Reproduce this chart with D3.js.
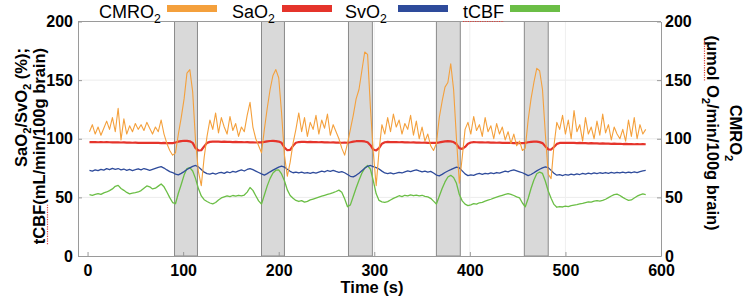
<!DOCTYPE html>
<html><head><meta charset="utf-8">
<script src="https://cdn.jsdelivr.net/npm/d3@7"></script>
<style>
body{margin:0;background:#fff}
svg{display:block;font-family:"Liberation Sans",Arial,sans-serif}
</style>
</head><body>
<svg id="c" width="744" height="299"></svg>
<script>
// ---- data (sampled every 3 s starting at t = 2 s) ----
const timeStart = 2, timeStep = 3;
const cmro2 = [106,112,104,110,103,109,115,108,118,106,126,99,117,104,111,106,113,108,112,107,
114,109,104,110,106,116,104,96,90,86,
88,104,118,134,156,159,140,98,72,60,84,102,116,108,122,105,118,110,104,119,
107,113,102,110,106,120,131,110,100,94,
88,108,126,142,154,159,152,122,86,68,80,96,108,122,106,118,102,114,108,120,
104,116,109,121,103,112,106,100,92,86,
96,108,120,134,142,158,174,172,126,88,60,90,112,104,118,106,121,110,116,104,
113,108,120,103,115,100,110,98,104,94,90,
96,118,132,144,148,164,142,100,62,84,108,114,104,119,107,112,102,118,106,111,
100,113,104,110,99,106,96,104,94,98,90,
92,116,134,148,160,158,142,104,70,66,94,114,108,120,104,116,100,124,106,112,
98,118,104,110,100,115,103,121,105,112,99,110,104,100,108,98,116,102,118,100,112,104,108];
const sao2 = [97.2,97.1,97.2,97.0,97.1,97.0,97.1,97.0,96.9,97.0,96.9,96.8,96.9,96.7,96.8,96.6,96.7,96.5,96.6,96.5,
96.6,96.4,96.5,96.4,96.5,96.3,96.4,96.2,96.3,96.3,
96.8,97.5,98.0,98.3,98.2,97.8,96.5,92.0,90.0,90.2,93.5,96.5,97.3,97.5,97.6,97.5,97.4,97.5,97.3,97.4,
97.2,97.3,97.1,97.2,97.0,97.1,96.9,97.0,96.8,96.9,
96.9,97.3,97.8,98.1,98.2,98.0,97.6,96.5,92.5,90.2,90.5,94.0,96.6,97.2,97.4,97.3,97.2,97.3,97.1,97.2,
97.0,97.1,96.9,97.0,96.8,96.9,96.7,96.8,96.6,96.7,
96.6,97.0,97.5,97.9,98.1,98.0,97.7,97.0,94.5,90.8,90.0,92.0,95.8,97.0,97.3,97.2,97.1,97.2,97.0,97.1,
96.9,97.0,96.8,96.9,96.7,96.8,96.6,96.7,96.5,96.6,96.4,
96.5,96.9,97.4,97.8,97.9,97.7,97.2,95.5,92.0,91.3,93.0,95.8,96.8,97.1,97.0,96.9,97.0,96.8,96.9,96.7,
96.8,96.6,96.7,96.5,96.6,96.4,96.5,96.3,96.4,96.3,96.2,
96.5,97.0,97.4,97.6,97.5,97.1,96.3,93.5,91.0,90.8,93.0,95.6,96.4,96.6,96.5,96.6,96.4,96.5,96.3,96.4,
96.2,96.3,96.1,96.2,96.0,96.1,95.9,96.0,95.8,95.9,95.7,95.8,95.6,95.7,95.5,95.6,95.4,95.5,95.3,95.4,95.3,95.4,95.3];
const svo2 = [73.0,72.4,73.5,72.8,73.9,73.2,74.5,73.6,74.8,73.9,74.6,73.5,74.2,73.1,73.8,72.9,73.6,74.4,73.5,74.6,
73.8,73.0,73.9,74.8,75.6,76.2,75.0,73.4,72.0,71.2,
69.8,69.2,70.5,72.0,73.8,75.2,76.4,77.2,76.0,73.8,71.5,70.2,69.8,70.6,69.9,70.8,71.4,70.5,71.8,71.0,
72.2,71.5,72.6,73.4,72.5,73.8,74.6,73.6,72.4,71.2,
70.0,69.0,70.3,71.8,73.2,74.5,75.8,76.6,75.9,74.0,72.2,71.0,71.6,70.8,71.5,70.6,71.2,70.4,71.3,70.7,
71.6,72.4,71.8,72.9,72.2,73.0,72.1,71.4,72.0,71.0,
69.5,68.0,67.5,68.8,70.6,72.8,74.8,76.5,77.2,76.2,75.4,74.2,72.4,70.8,70.2,70.9,70.0,70.6,71.4,70.8,
71.8,72.6,71.9,72.8,73.5,72.6,71.8,72.4,71.6,72.2,70.8,
69.0,68.4,69.6,71.2,72.5,73.6,74.8,75.8,75.2,72.6,70.0,68.6,69.2,68.8,69.8,70.4,69.6,70.5,70.0,70.9,
70.3,71.2,70.6,71.6,72.4,71.8,72.9,73.4,72.6,71.8,71.0,
69.8,68.6,69.5,71.0,72.6,74.0,75.2,76.0,75.4,73.0,70.6,68.9,69.4,68.6,69.5,68.9,69.8,69.2,70.1,69.5,
70.4,69.8,70.6,70.0,70.8,70.2,71.0,70.4,71.2,70.5,71.3,70.7,71.4,70.8,71.5,70.9,71.6,71.0,71.8,71.2,72.0,72.6,73.0];
const tcbf = [52.4,51.8,52.6,53.2,52.5,53.8,54.6,55.8,57.2,59.4,60.2,57.6,56.0,54.2,53.0,53.6,54.0,54.6,55.8,57.8,
59.8,59.0,57.2,57.8,59.6,61.4,59.0,54.6,49.8,45.6,
44.6,53.5,61.0,69.0,74.6,75.4,72.5,66.0,57.5,51.2,48.0,46.5,45.2,44.4,45.6,47.8,49.5,50.4,51.2,50.6,
51.6,51.0,51.8,51.2,52.0,54.5,58.4,56.0,51.4,47.0,
44.3,52.0,59.8,66.2,70.8,73.2,73.4,70.0,64.2,56.4,51.6,49.2,47.4,46.5,47.2,45.9,46.6,47.8,48.6,49.4,
50.2,51.0,51.8,52.6,53.2,54.0,55.0,56.2,54.4,48.8,
42.0,43.6,50.8,58.0,64.6,70.6,75.0,77.2,74.0,64.0,53.0,47.4,46.2,45.8,46.4,47.8,49.2,50.2,51.4,50.6,
51.8,51.2,52.2,51.4,51.9,51.2,51.8,50.8,50.4,49.2,46.8,
44.4,51.0,57.6,63.2,67.4,68.8,67.0,62.0,52.4,47.0,44.2,43.0,43.6,44.6,44.2,45.4,45.8,46.8,47.6,48.4,
49.4,50.2,51.0,51.8,52.6,53.2,52.6,51.6,50.4,49.6,45.2,
42.0,49.0,57.6,64.8,70.2,71.6,70.4,63.8,55.4,49.2,44.0,41.6,42.2,41.8,42.6,42.2,43.0,43.4,43.8,44.4,
44.9,45.6,46.2,46.0,46.8,47.2,46.8,47.4,48.4,49.8,51.2,52.4,52.8,51.6,50.0,48.6,47.4,47.8,49.4,51.0,52.2,53.0,52.4];
const stimBlocks = [[91,115],[182,206],[273,298],[365,390],[457,482]];
const xTicks = [0,100,200,300,400,500,600];
const yTicks = [0,50,100,150,200];
const seriesColors = ["#F4A03C","#E5342B","#2E4B9B","#6BBE46"];

// ---- layout ----
const svg = d3.select("#c");
const FONT = '"Liberation Sans",Arial,sans-serif';
const L = 78, R = 661, T = 21.5, B = 256;
const x = d3.scaleLinear().domain([-10, 600]).range([L, R]);
const y = d3.scaleLinear().domain([0, 200]).range([B, T]);
const times = d3.range(cmro2.length).map(i => timeStart + i * timeStep);

svg.append("rect").attr("width",744).attr("height",299).attr("fill","#fff");

// grid
const g = svg.append("g");
g.selectAll(".hg").data(yTicks.slice(1,-1)).join("line")
  .attr("x1",L).attr("x2",R).attr("y1",d=>y(d)).attr("y2",d=>y(d))
  .attr("stroke","#ececec").attr("stroke-width",1);
g.selectAll(".vg").data(xTicks.slice(1,-1)).join("line")
  .attr("y1",T).attr("y2",B).attr("x1",d=>x(d)).attr("x2",d=>x(d))
  .attr("stroke","#efefef").attr("stroke-width",1);

// stimulation blocks
svg.append("g").selectAll("rect").data(stimBlocks).join("rect")
  .attr("x",d=>x(d[0])).attr("width",d=>x(d[1])-x(d[0]))
  .attr("y",T).attr("height",B-T)
  .attr("fill","#d9d9d9").attr("stroke","#8a8a8a").attr("stroke-width",1);

// axes
const styleAxis = a => {
  a.select(".domain").attr("stroke","#9a9a9a");
  a.selectAll(".tick line").attr("stroke","#9a9a9a");
  a.selectAll(".tick text").attr("font-size",16).attr("font-weight","bold")
    .attr("fill","#000").attr("font-family",FONT);
};
svg.append("g").attr("transform",`translate(${L},0)`)
  .call(d3.axisLeft(y).tickValues(yTicks).tickSizeInner(-4).tickSizeOuter(0).tickPadding(5)).call(styleAxis);
svg.append("g").attr("transform",`translate(${R},0)`)
  .call(d3.axisRight(y).tickValues(yTicks).tickSizeInner(-4).tickSizeOuter(0).tickPadding(4)).call(styleAxis);
svg.append("g").attr("transform",`translate(0,${B})`)
  .call(d3.axisBottom(x).tickValues(xTicks).tickSizeInner(-4).tickSizeOuter(0).tickPadding(9)).call(styleAxis);
svg.append("line").attr("x1",L).attr("x2",R).attr("y1",T).attr("y2",T).attr("stroke","#9a9a9a");

// series
const line = d3.line().x((d,i)=>x(times[i])).y(d=>y(d));
const draw = (data,color,w) => svg.append("path").datum(data).attr("d",line)
  .attr("fill","none").attr("stroke",color).attr("stroke-width",w).attr("stroke-linejoin","round");
draw(tcbf, seriesColors[3], 1.3);
draw(svo2, seriesColors[2], 1.3);
draw(sao2, seriesColors[1], 2.2);
draw(cmro2, seriesColors[0], 1.1);

// text with subscripts: parts = [[text, isSub], ...]
function richText(sel, parts, size) {
  let prevSub = false;
  parts.forEach(([t, sub]) => {
    const ts = sel.append("tspan").text(t);
    if (sub) ts.attr("font-size", size*0.68);
    if (sub && !prevSub) ts.attr("dy", size*0.3);
    else if (!sub && prevSub) ts.attr("dy", -size*0.3);
    prevSub = sub;
  });
}
// red dotted "spell-check" underline under characters [a,b] of a text element
function squiggle(parent, textNode, a, b, off) {
  const p0 = textNode.getStartPositionOfChar(a), p1 = textNode.getEndPositionOfChar(b);
  parent.append("line").attr("x1",p0.x).attr("x2",p1.x).attr("y1",p0.y+off).attr("y2",p1.y+off)
    .attr("stroke","#e0403a").attr("stroke-width",1.2).attr("stroke-dasharray","1.2,1.2");
}

// legend
const legend = [
  {parts:[["CMRO",0],["2",1]], tx:99, sx:167, c:seriesColors[0]},
  {parts:[["SaO",0],["2",1]], tx:232, sx:282, c:seriesColors[1]},
  {parts:[["SvO",0],["2",1]], tx:345, sx:398, c:seriesColors[2]},
  {parts:[["tCBF",0]], tx:463, sx:510, c:seriesColors[3]}
];
const lg = svg.append("g");
legend.forEach(l => {
  const t = lg.append("text").attr("x",l.tx).attr("y",18).attr("font-size",18).attr("fill","#000");
  richText(t, l.parts, 18);
  lg.append("rect").attr("x",l.sx).attr("y",5).attr("width",50).attr("height",7).attr("fill",l.c);
  if (l.parts[0][0] === "tCBF") squiggle(lg, t.node(), 0, 3, 3.5);
});

// left axis title (top-aligned, reading bottom to top)
const lt = svg.append("g").attr("transform","rotate(-90)");
const l1 = lt.append("text").attr("x",-48).attr("y",26.5).attr("text-anchor","end")
  .attr("font-size",16.5).attr("font-weight","bold");
richText(l1, [["SaO",0],["2",1],["/SvO",0],["2",1],[" (%);",0]], 16.5);
const l2 = lt.append("text").attr("x",-48).attr("y",45).attr("text-anchor","end")
  .attr("font-size",16.5).attr("font-weight","bold").text("tCBF(mL/min/100g brain)");
squiggle(lt, l2.node(), 0, 3, 2.5);

// right axis title (reading top to bottom)
const rt = svg.append("g").attr("transform","translate(744,133) rotate(90)");
const r1 = rt.append("text").attr("x",0).attr("y",14).attr("text-anchor","middle")
  .attr("font-size",16.5).attr("font-weight","bold");
richText(r1, [["CMRO",0],["2",1]], 16.5);
const r2 = rt.append("text").attr("x",0).attr("y",37).attr("text-anchor","middle")
  .attr("font-size",16.5).attr("font-weight","bold");
richText(r2, [["(μmol O",0],["2",1],["/min/100g brain)",0]], 16.5);
squiggle(rt, r2.node(), 1, 4, 2.5);

// x title
svg.append("text").attr("x",372).attr("y",293).attr("text-anchor","middle")
  .attr("font-size",16.5).attr("font-weight","bold").attr("font-family",FONT).text("Time (s)");
</script>
</body></html>
